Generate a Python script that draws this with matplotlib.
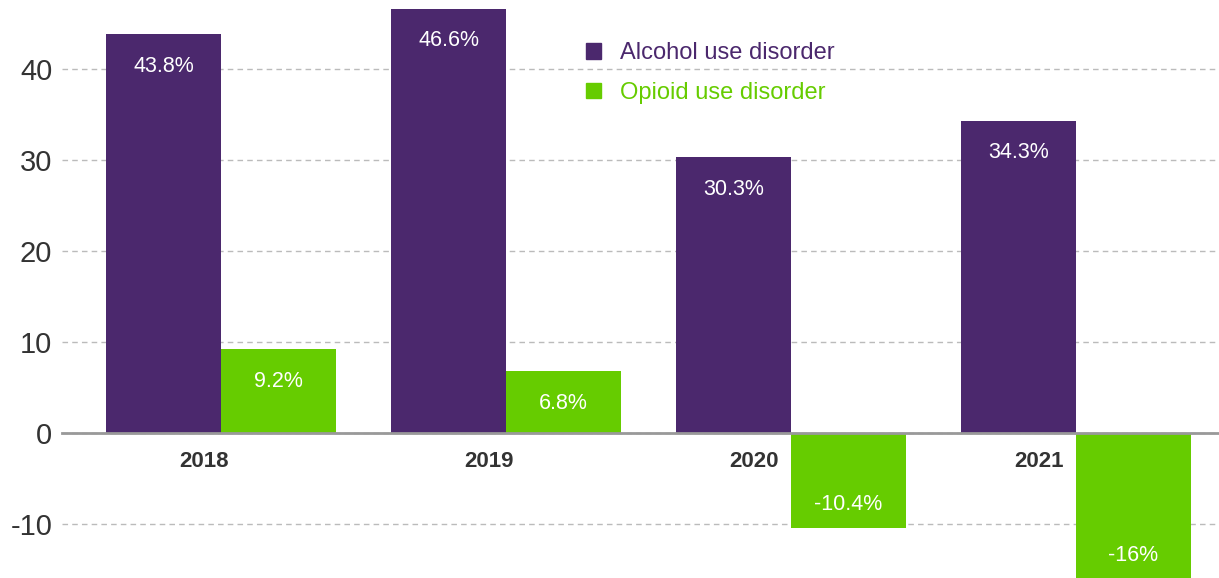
import numpy as np
import matplotlib.pyplot as plt
from matplotlib.patches import Patch

plt.rcParams['font.family'] = ['Liberation Sans', 'DejaVu Sans']

years = ["2018", "2019", "2020", "2021"]
alcohol = [43.8, 46.6, 30.3, 34.3]
opioid = [9.2, 6.8, -10.4, -16.0]
alcohol_labels = ["43.8%", "46.6%", "30.3%", "34.3%"]
opioid_labels = ["9.2%", "6.8%", "-10.4%", "-16%"]

purple = "#4B286D"
green = "#66CC00"

fig = plt.figure(figsize=(12.19, 5.78), dpi=100)
ax = fig.add_axes([62 / 1219, 0, 1 - 62 / 1219, 1])

x = np.arange(len(years))
w = 0.403
b1 = ax.bar(x - w / 2, alcohol, w, color=purple, zorder=3)
b2 = ax.bar(x + w / 2, opioid, w, color=green, zorder=3)

# value labels inside the bars, near the outer end
for bars, labels in [(b1, alcohol_labels), (b2, opioid_labels)]:
    for rect, lab in zip(bars, labels):
        h = rect.get_height()
        cx = rect.get_x() + rect.get_width() / 2
        off = -23 if h >= 0 else 17
        ax.annotate(lab, (cx, h), xytext=(0, off), textcoords="offset points",
                    ha="center", va="center", color="white", fontsize=15.5,
                    zorder=4, annotation_clip=False)

ax.set_xlim(-0.558, 3.502)
ax.set_ylim(-15.93, 47.58)

for s in ["top", "right", "left"]:
    ax.spines[s].set_visible(False)
ax.spines["bottom"].set_position(("data", 0))
ax.spines["bottom"].set_color("#999999")
ax.spines["bottom"].set_linewidth(2)
ax.spines["bottom"].set_zorder(5)

ax.set_yticks([-10, 0, 10, 20, 30, 40])
ax.set_yticklabels(["-10", "0", "10", "20", "30", "40"])
ax.tick_params(axis="y", length=0, pad=7, labelsize=21, labelcolor="#333333")

# year labels sit further left where the green bar hangs below zero
shift = np.where(np.array(opioid) < 0, 0.13, 0.06)
ax.set_xticks(x - shift)
ax.set_xticklabels(years, fontweight="bold")
ax.tick_params(axis="x", length=0, pad=13, labelsize=16, labelcolor="#333333")

ax.yaxis.grid(True, color="#BBBBBB", linestyle=(0, (4, 3)), linewidth=1, zorder=0)
ax.set_axisbelow(True)

handles = [Patch(color=purple), Patch(color=green)]
fig.legend(handles, ["Alcohol use disorder", "Opioid use disorder"],
           loc="upper left", bbox_to_anchor=(565 / 1219, 1 - 21 / 578),
           frameon=False, fontsize=17, handlelength=0.62, handleheight=0.62,
           handletextpad=0.8, labelspacing=0.75, labelcolor=[purple, green])

fig.savefig("out.png", dpi=100)
